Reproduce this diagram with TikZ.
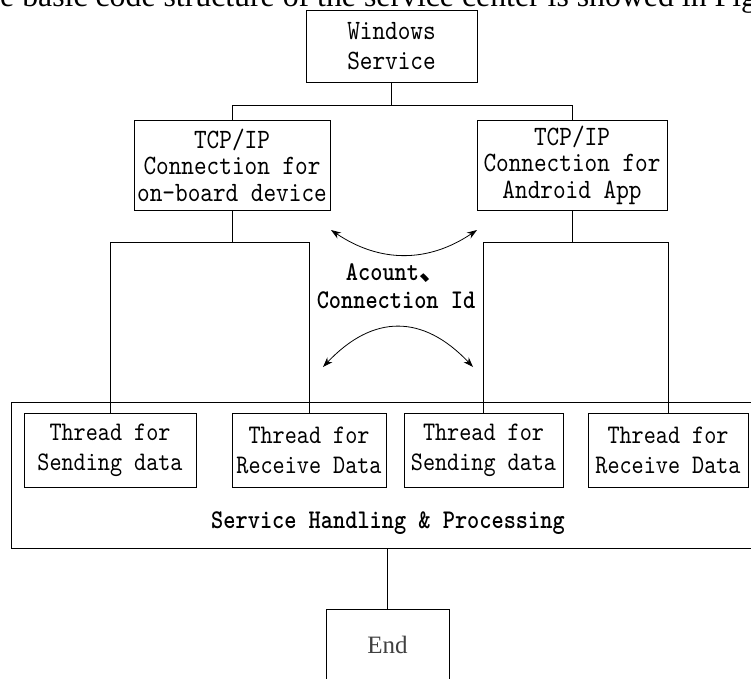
\documentclass[tikz,border=0pt]{standalone}
\usepackage{fontspec}
\usetikzlibrary{arrows.meta}
\newfontfamily\cjkfont{Noto Sans CJK SC}
\newfontfamily\serifL{Liberation Serif}
\newfontfamily\simmono{lmmono10-regular}[Extension=.otf, BoldFont=lmmonolt10-bold, FakeStretch=0.86]
\tikzset{
  box/.style={draw, line width=0.8pt, inner sep=0pt, align=center,
    font=\simmono\fontsize{28}{26.5}\selectfont},
  thr/.style={box, minimum height=74pt, font=\simmono\fontsize{26.8}{30}\selectfont},
  wire/.style={line width=0.8pt},
  link/.style={line width=0.8pt, {Stealth[length=10pt,width=7pt]}-{Stealth[length=10pt,width=7pt]}},
  boldlbl/.style={font=\simmono\bfseries\fontsize{27}{28}\selectfont, align=center, inner sep=0pt}
}
\begin{document}
\begin{tikzpicture}[x=1pt,y=-1pt]
\clip (0,0) rectangle (751,678);
\useasboundingbox (0,0) rectangle (751,678);

% cut-off caption line at the top
\node[anchor=base west, inner sep=0pt, font=\serifL\fontsize{31.8}{32}\selectfont] (cap) at (-35.3,6)
  {The basic code structure of the service center is showed in Fig};

\node[box, minimum width=171pt, minimum height=72pt, font=\simmono\fontsize{28}{30}\selectfont] (ws) at (391.5,46) {Windows\\Service};
\node[box, minimum width=196pt, minimum height=90pt] (tcpL) at (232,165) {TCP/IP\\Connection for\\on-board device};
\node[box, minimum width=190pt, minimum height=90pt] (tcpR) at (572,165) {TCP/IP\\Connection for\\Android App};

\node[draw, line width=0.8pt, minimum width=760pt, minimum height=146pt, inner sep=0pt] (sv) at (391,475) {};
\node[thr, minimum width=172pt] (t1) at (110,450) {Thread for\\Sending data};
\node[thr, minimum width=154pt] (t2) at (309,450) {Thread for\\Receive Data};
\node[thr, minimum width=159pt] (t3) at (483.5,450) {Thread for\\Sending data};
\node[thr, minimum width=160pt] (t4) at (668,450) {Thread for\\Receive Data};
\node[boldlbl] (svl) at (388,523) {Service Handling \& Processing};

\node[box, font=\serifL\fontsize{25}{26}\selectfont, text=black!75, minimum width=123pt, minimum height=72pt] (end) at (387.5,645) {End};

% tree connectors
\path (ws.south) ++(0,23) coordinate (wsj);
\draw[wire] (ws.south) -- (wsj);
\draw[wire] (tcpL.north) |- (wsj) -| (tcpR.north);
\path (tcpL.south) ++(0,32) coordinate (jl);
\draw[wire] (tcpL.south) -- (jl);
\draw[wire] (t1.north) |- (jl) -| (t2.north);
\path (tcpR.south) ++(0,32) coordinate (jr);
\draw[wire] (tcpR.south) -- (jr);
\draw[wire] (t3.north) |- (jr) -| (t4.north);
\draw[wire] (end.north |- sv.south) -- (end.north);

% exchange arrows and label
\coordinate (a1) at (331,230);
\coordinate (a2) at (477,230);
\coordinate (b1) at (323,367);
\coordinate (b2) at (473,367);
\draw[link] (a1) .. controls (380,263) and (428,263) .. (a2);
\draw[link] (b1) .. controls (373,314) and (423,314) .. (b2);
\node[boldlbl] (lbl) at (396,286) {Acount{\cjkfont 、}\\Connection Id};
\end{tikzpicture}
\end{document}
